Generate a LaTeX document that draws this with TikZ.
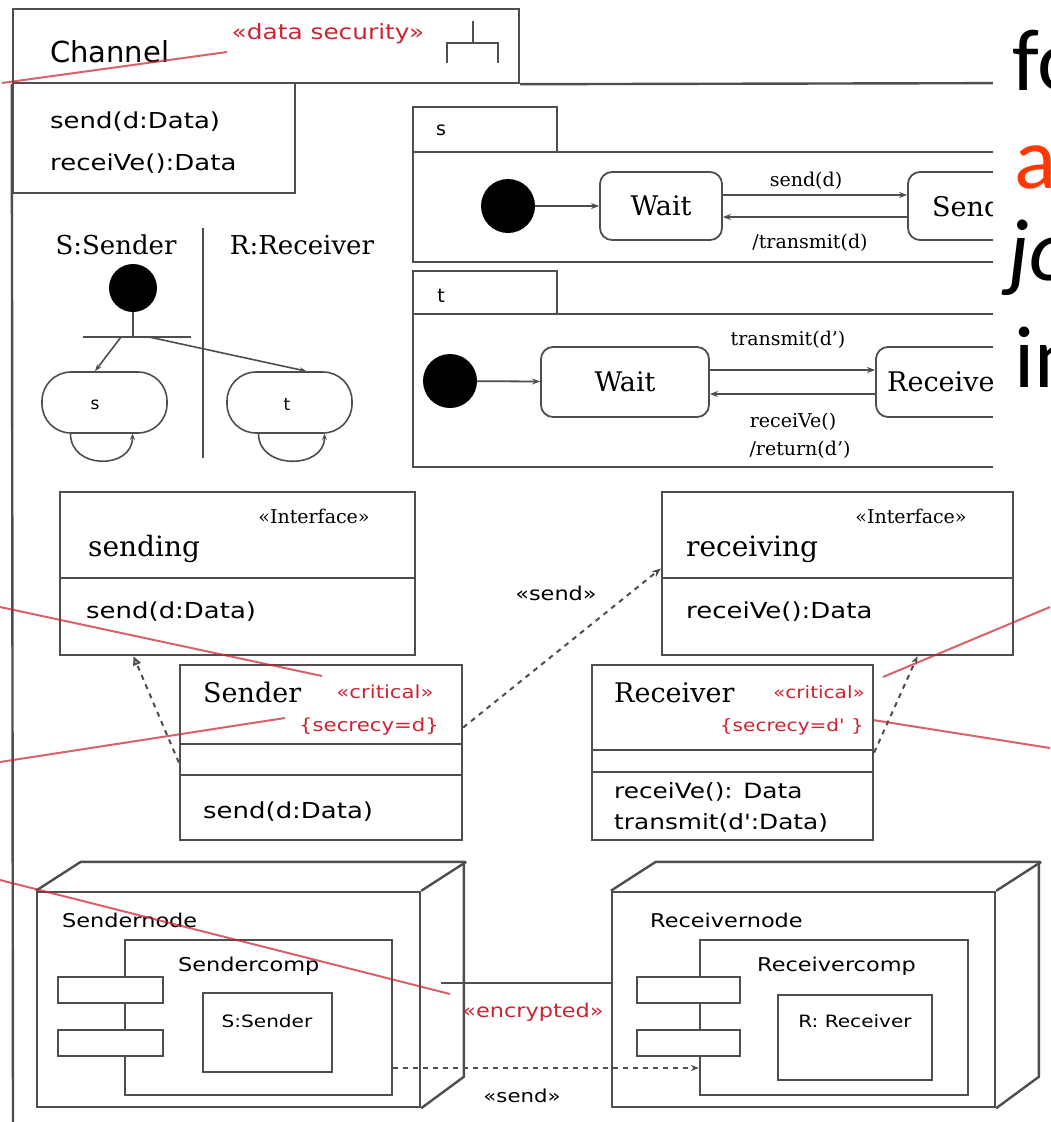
\documentclass[tikz,border=0pt]{standalone}
\usepackage{fontspec}
\setmainfont{DejaVu Serif}
\newfontfamily\dsans{DejaVu Sans}
\newfontfamily\dwide[FakeStretch=1.18]{DejaVu Sans}
\newfontfamily\slidefont{Carlito}
\usetikzlibrary{arrows.meta}

\definecolor{ln}{RGB}{78,78,78}
\definecolor{markred}{RGB}{205,35,50}
\definecolor{slidered}{RGB}{255,55,0}
\newcommand\fsz[1]{\fontsize{#1}{#1}\selectfont}

\begin{document}
\begin{tikzpicture}[x=1pt,y=-1pt,
  bx/.style n args={2}{draw=ln,line width=2.4pt,inner sep=0pt,minimum width=#1,minimum height=#2},
  st/.style n args={2}{draw=ln,line width=1.8pt,inner sep=0pt,rounded corners=12pt,minimum width=#1,minimum height=#2},
  blob/.style n args={2}{draw=ln,line width=1.6pt,inner sep=0pt,rounded corners=29pt,minimum width=#1,minimum height=#2},
  dot/.style={circle,fill=black,inner sep=0pt,minimum size=#1},
  ln2/.style={draw=ln,line width=2.4pt},
  thin/.style={draw=ln,line width=1.6pt},
  tr/.style={draw=ln,line width=1.8pt,-{Stealth[length=8pt,width=6pt]}},
  dep/.style={draw=ln,line width=2pt,dash pattern=on 5pt off 5pt},
  redln/.style={draw=markred,line width=2pt,opacity=0.72},
  txt/.style={inner sep=0pt,text=black},
  rtxt/.style={inner sep=0pt,text=markred},
]
\useasboundingbox (0,0) rectangle (1050,1122);
\fill[white] (0,0) rectangle (1050,1122);

% ---------- Channel frame ----------
\node[bx={506pt}{74pt}] (chtitle) at (266,46) {};
\node[bx={282pt}{110pt}] (chattr) at (154,138) {};
\coordinate (frameTR) at (1050,83);
\coordinate (frameBL) at (13,1122);
\draw[ln2] (chtitle.south east) -- (frameTR);
\draw[ln2] (chtitle.south west) -- (frameBL);
\node[txt,anchor=base west] (chname) at (50,62) {\dsans\fsz{29}Channel};
\node[rtxt] (chster) at (328,34) {\dwide\fsz{21}«data security»};
% package symbol
\coordinate (pk1) at (473,21);
\coordinate (pk2) at (473,43);
\draw[thin] (pk1) -- (pk2);
\draw[thin] (447,63) -- (447,43) -- (498,43) -- (498,63);
\node[txt,anchor=base west] (cha1) at (50,128) {\dwide\fsz{22}send(d:Data)};
\node[txt,anchor=base west] (cha2) at (50,170) {\dwide\fsz{22}receiVe():Data};

% ---------- state machine s ----------
\node[bx={144pt}{45pt}] (stab) at (485,129.5) {};
\node[bx={637pt}{110pt}] (sbody) at (731.5,207) {};
\node[txt] (slbl) at (441,130) {\dsans\fsz{19}s};
\node[dot=54pt] (sdot) at (508,206) {};
\node[st={122pt}{68pt}] (swait) at (661,206) {};
\node[txt] at (swait) {\fsz{27}Wait};
\node[st={122pt}{68pt}] (ssend) at (969,206) {};
\node[txt,anchor=west] at (932,206) {\fsz{27}Send};
\draw[tr] (sdot) -- (swait);
\draw[tr] ([yshift=11pt]swait.east) -- ([yshift=11pt]ssend.west);
\draw[tr] ([yshift=-11pt]ssend.west) -- ([yshift=-11pt]swait.east);
\node[txt] (sl1) at (806,181) {\fsz{19}send(d)};
\node[txt] (sl2) at (810,243) {\fsz{19}/transmit(d)};

% ---------- state machine t ----------
\node[bx={144pt}{43pt}] (ttab) at (485,292.5) {};
\node[bx={637pt}{153pt}] (tbody) at (731.5,390.5) {};
\node[txt] (tlbl) at (441,296) {\dsans\fsz{19}t};
\node[dot=54pt] (tdot) at (450,381) {};
\node[st={168pt}{70pt}] (twait) at (625,382) {};
\node[txt] at (twait) {\fsz{27}Wait};
\node[st={150pt}{70pt}] (trecv) at (951,382) {};
\node[txt,anchor=west] at (887,382) {\fsz{27}Receive};
\draw[tr] (tdot) -- (twait);
\draw[tr] ([yshift=12pt]twait.east) -- ([yshift=12pt]trecv.west);
\draw[tr] ([yshift=-12pt]trecv.west) -- ([yshift=-12pt]twait.east);
\node[txt] (tl1) at (788,340) {\fsz{19}transmit(d')};
\node[txt] (tl2) at (793,422) {\fsz{19}receiVe()};
\node[txt] (tl3) at (800,450) {\fsz{19}/return(d')};

% ---------- composite S:Sender / R:Receiver ----------
\node[txt] (sname) at (116,245) {\fsz{26}S:Sender};
\node[txt] (rname) at (302,245) {\fsz{26}R:Receiver};
\coordinate (divT) at (203,228);
\coordinate (divB) at (203,458);
\draw[thin] (divT) -- (divB);
\node[dot=48pt] (fdot) at (133,288) {};
\coordinate (forkL) at (83,337);
\coordinate (forkR) at (191,337);
\coordinate (forkM) at (133,337);
\draw[thin] (forkL) -- (forkR);
\draw[thin] (fdot) -- (forkM);
\node[blob={125pt}{61pt}] (sst) at (104.5,402.5) {};
\node[blob={125pt}{61pt}] (tst) at (289.5,402.5) {};
\node[txt] at (95,405) {\dsans\fsz{17}s};
\node[txt] at (287,405) {\dsans\fsz{17}t};
\draw[thin,-{Stealth[length=7pt,width=5pt]}] ([xshift=-12pt]forkM) -- ([xshift=-9.5pt]sst.north);
\draw[thin,-{Stealth[length=7pt,width=5pt]}] ([xshift=16pt]forkM) -- ([xshift=17pt]tst.north);
\draw[thin,-{Stealth[length=6pt,width=5pt]}] ([xshift=-34pt]sst.south) .. controls +(0,36) and +(0,36) .. ([xshift=28pt]sst.south);
\draw[thin,-{Stealth[length=6pt,width=5pt]}] ([xshift=-31pt]tst.south) .. controls +(0,36) and +(0,36) .. ([xshift=35pt]tst.south);

% ---------- interfaces and classes ----------
\node[bx={355pt}{163pt}] (sending) at (237.5,573.5) {};
\draw[ln2] (sending.west |- 0,578) -- (sending.east |- 0,578);
\node[txt] at (314,516) {\fsz{19}«Interface»};
\node[txt,anchor=base west] at (88,556) {\fsz{28}sending};
\node[txt,anchor=base west] at (86,618) {\dwide\fsz{22}send(d:Data)};

\node[bx={351pt}{163pt}] (receiving) at (837.5,573.5) {};
\draw[ln2] (receiving.west |- 0,578) -- (receiving.east |- 0,578);
\node[txt] at (911,516) {\fsz{19}«Interface»};
\node[txt,anchor=base west] at (686,556) {\fsz{28}receiving};
\node[txt,anchor=base west] at (686,618) {\dwide\fsz{22}receiVe():Data};

\node[bx={282pt}{175pt}] (sender) at (321,752.5) {};
\draw[ln2] (sender.west |- 0,744) -- (sender.east |- 0,744);
\draw[ln2] (sender.west |- 0,775) -- (sender.east |- 0,775);
\node[txt,anchor=base west] at (203,702) {\fsz{27}Sender};
\node[rtxt] at (385,692) {\dwide\fsz{18}«critical»};
\node[rtxt] at (369,727) {\dwide\fsz{18}\{secrecy=d\}};
\node[txt,anchor=base west] at (203,818) {\dwide\fsz{22}send(d:Data)};

\node[bx={281pt}{175pt}] (receiver) at (732.5,752.5) {};
\draw[ln2] (receiver.west |- 0,750) -- (receiver.east |- 0,750);
\draw[ln2] (receiver.west |- 0,772) -- (receiver.east |- 0,772);
\node[txt,anchor=base west] at (614,702) {\fsz{27}Receiver};
\node[rtxt] at (819,692) {\dwide\fsz{17}«critical»};
\node[rtxt,anchor=east] at (864,727) {\dwide\fsz{17}\{secrecy=d' \}};
\node[txt,anchor=base west] at (614,798) {\dwide\fsz{21}receiVe(): Data};
\node[txt,anchor=base west] at (614,829) {\dwide\fsz{21}transmit(d':Data)};

% realisations and the send dependency
\draw[dep,-{Triangle[open,length=9pt,width=8pt]}] ([yshift=-10pt]sender.west) -- ([xshift=-104pt]sending.south);
\draw[dep,-{Stealth[length=9pt,width=7pt]}] ([yshift=25pt]sender.east) -- ([yshift=5pt]receiving.west);
\node[txt] at (556,593) {\dwide\fsz{19}«send»};
\draw[dep,-{Stealth[length=8pt,width=6pt]}] (receiver.east) -- ([xshift=80pt]receiving.south);

% ---------- deployment ----------
% Sendernode
\node[bx={383pt}{215pt}] (snode) at (228.5,999.5) {};
\draw[ln2] (snode.north west) -- ++(45,-29) -- ++(383,0) -- ++(0,215) -- (snode.south east);
\draw[ln2] (snode.north east) -- ++(45,-29);
\node[txt,anchor=base west] at (62,927) {\dwide\fsz{19}Sendernode};
\node[bx={267pt}{155pt}] (scomp) at (258.5,1017.5) {};
\node[bx={105pt}{26pt},fill=white] (stab1) at (110.5,990) {};
\node[bx={105pt}{26pt},fill=white] (stab2) at (110.5,1043) {};
\node[txt,anchor=base west] at (178,971) {\dwide\fsz{19}Sendercomp};
\node[bx={129pt}{79pt}] (sinst) at (267.5,1032.5) {};
\node[txt] at (267,1021) {\dwide\fsz{17}S:Sender};

% Receivernode
\node[bx={383pt}{215pt}] (rnode) at (803.5,999.5) {};
\draw[ln2] (rnode.north west) -- ++(45,-29) -- ++(383,0) -- ++(0,215) -- (rnode.south east);
\draw[ln2] (rnode.north east) -- ++(45,-29);
\node[txt,anchor=base west] at (650,927) {\dwide\fsz{19}Receivernode};
\node[bx={268pt}{155pt}] (rcomp) at (834,1017.5) {};
\node[bx={103pt}{26pt},fill=white] (rtab1) at (688.5,990) {};
\node[bx={103pt}{26pt},fill=white] (rtab2) at (688.5,1043) {};
\node[txt,anchor=base west] at (757,971) {\dwide\fsz{19}Receivercomp};
\node[bx={154pt}{85pt}] (rinst) at (855,1037.5) {};
\node[txt] at (855,1021) {\dwide\fsz{17}R: Receiver};

% links between the nodes
\draw[ln2] ([xshift=20pt,yshift=16.5pt]snode.east) -- ([yshift=16.5pt]rnode.west);
\node[rtxt] at (533,1012) {\dwide\fsz{19}«encrypted»};
\draw[dep,-{Stealth[length=8pt,width=6pt]}] ([yshift=-50.5pt]scomp.east) -- ([yshift=-50.5pt]rcomp.west);
\node[txt] at (522,1096) {\dwide\fsz{18}«send»};

% ---------- red pointer lines ----------
\draw[redln] (2,83) -- (227,52);
\draw[redln] (0,607) -- (322,676);
\draw[redln] (0,762) -- (285,718);
\draw[redln] (0,880) -- (450,994);
\draw[redln] (883,677) -- (1050,607);
\draw[redln] (873,720) -- (1050,748);

% ---------- slide text on the right ----------
\fill[white] (993,0) rectangle (1052,482);
\node[txt,anchor=base west] (w1) at (1012,90) {\slidefont\fsz{88}fo};
\node[inner sep=0pt,text=slidered,anchor=base west] (w2) at (1014,188) {\slidefont\fsz{88}a};
\node[txt,anchor=base west] (w3) at (1008,280) {\slidefont\itshape\fsz{88}jo};
\node[txt,anchor=base west] (w4) at (1014,387) {\slidefont\fsz{88}in};
\end{tikzpicture}
\end{document}
